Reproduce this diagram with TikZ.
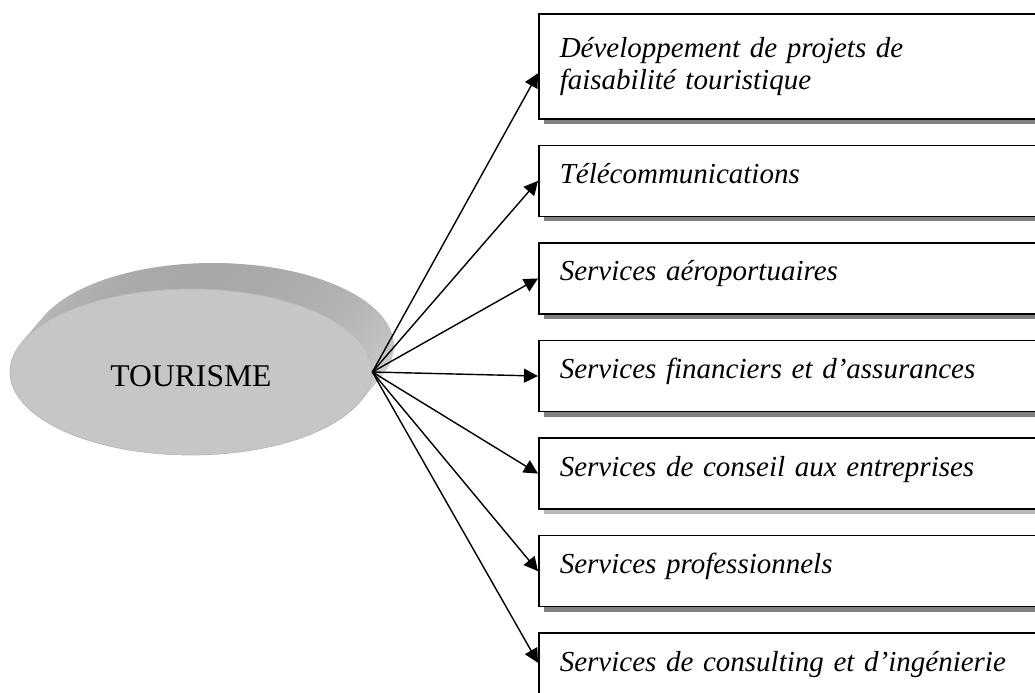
\documentclass[tikz,border=0pt]{standalone}
\usepackage{fontspec}
\setmainfont{Liberation Serif}
\usepackage{xcolor}
\definecolor{diskgray}{RGB}{198,198,198}
\usepackage{tikz}
\usetikzlibrary{arrows.meta, positioning, shapes.geometric, shadows}

\begin{document}
\begin{tikzpicture}[
  disk/.style={ellipse, fill=diskgray, draw=black!28, line width=0.4pt,
               minimum width=7.24cm, minimum height=3.32cm, inner sep=0pt,
               font=\fontsize{18}{21}\selectfont,
               text height=0.6cm, text depth=0.04cm},
  box/.style ={rectangle, draw, line width=0.9pt, fill=white,
               text width=9.76cm, inner xsep=0.42cm, inner ysep=0pt,
               align=left, font=\fontsize{16.5}{18.3}\selectfont\itshape,
               drop shadow={shadow xshift=0.1cm, shadow yshift=-0.1cm,
                            opacity=1, fill=black!50}},
  single/.style={minimum height=1.42cm, text height=0.3cm, text depth=0.2cm},
  link/.style={line width=0.8pt, -{Triangle[length=0.28cm, width=0.28cm]}},
]
\useasboundingbox (0,0) rectangle (20.7,-13.86);
\clip (0,0) rectangle (20.7,-13.86);

%% --- disque TOURISME ---
\coordinate (dc) at (3.82,-7.44);
\foreach \k in {20,19,...,1}
  \shade[top color=black!34, bottom color=black!10]
    ([shift={(\k*0.022,\k*0.026)}]dc) ellipse [x radius=3.62cm, y radius=1.66cm];
\node[disk] (tour) at (dc) {TOURISME};

%% --- secteurs ---
\node[box, minimum height=2.1cm, anchor=north west] (s1) at (10.76,-0.26)
  {Développement de projets de\\faisabilité touristique};
\node[box, single, below=0.5cm of s1] (s2) {Télécommunications};
\node[box, single, below=0.5cm of s2] (s3) {Services aéroportuaires};
\node[box, single, below=0.5cm of s3] (s4) {Services financiers et d’assurances};
\node[box, single, below=0.5cm of s4,
      drop shadow={shadow xshift=0.1cm, shadow yshift=-0.1cm,
                   opacity=1, fill=black!28}] (s5)
  {Services de conseil aux entreprises};
\node[box, single, below=0.5cm of s5] (s6) {Services professionnels};
\node[box, single, below=0.5cm of s6] (s7) {Services de consulting et d’ingénierie};

%% --- flèches ---
\draw[link] (tour.east) -- ([yshift=-0.14cm]s1.west);
\foreach \i in {2,...,6}
  \draw[link] (tour.east) -- (s\i.west);
\draw[link] (tour.east) -- ([yshift=0.12cm]s7.west);
\end{tikzpicture}
\end{document}
